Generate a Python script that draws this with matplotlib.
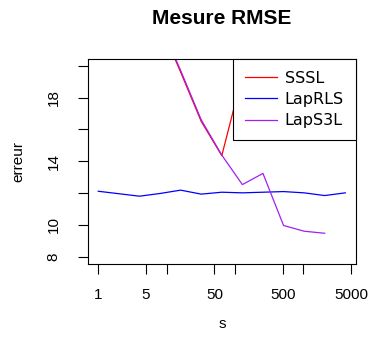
import matplotlib
matplotlib.use("Agg")
import matplotlib.pyplot as plt

# values
s = [1, 4, 8, 16, 32, 64, 128, 256, 512, 1024, 2048, 4096]
sssl = [38.0, 29.0, 22.6, 19.6, 16.5, 14.35, 19.4, 22.0, 24.0, 25.0, 26.0]
laprls = [12.11, 11.80, 11.97, 12.18, 11.93, 12.05, 12.01, 12.05, 12.09, 12.01, 11.84, 12.01]
laps3l = [38.0, 29.0, 22.7, 19.7, 16.6, 14.38, 12.53, 13.23, 9.96, 9.60, 9.47]

xticks = [1, 5, 10, 50, 100, 500, 1000, 5000]
xlabels = ["1", "5", "", "50", "", "500", "", "5000"]
yticks = [8, 10, 12, 14, 16, 18, 20]
ylabels = ["8", "10", "", "14", "", "18", ""]

plt.rcParams['font.family'] = ['Liberation Sans', 'DejaVu Sans']

fig = plt.figure(figsize=(3.7, 3.45), dpi=100)
ax = fig.add_axes([0.2386, 0.2348, 0.962 - 0.2386, 0.829 - 0.2348])

lw = 0.9
ax.plot(s[:len(sssl)], sssl, color='#FF0000', lw=lw, label='SSSL')
ax.plot(s, laprls, color='#0000FF', lw=lw, label='LapRLS')
ax.plot(s[:len(laps3l)], laps3l, color='#A020F0', lw=lw, label='LapS3L')

ax.set_xscale('log')
ax.set_xlim(0.714, 5861)
ax.set_ylim(7.54, 20.42)
ax.minorticks_off()
ax.set_xticks(xticks)
ax.set_xticklabels(xlabels)
ax.set_yticks(yticks)
ax.set_yticklabels(ylabels)

ax.tick_params(axis='both', length=7, width=0.8, labelsize=11)
ax.tick_params(axis='x', pad=10)
ax.tick_params(axis='y', pad=13, labelrotation=90)
for t in ax.get_yticklabels():
    t.set_va('center')
for sp in ax.spines.values():
    sp.set_linewidth(0.8)

ax.set_title('Mesure RMSE', fontsize=15, fontweight='bold', pad=25)
ax.set_xlabel('s', fontsize=11, labelpad=11)
ax.set_ylabel('erreur', fontsize=11, labelpad=15)

leg = ax.legend(loc='upper right', borderaxespad=0, fancybox=False,
                edgecolor='black', framealpha=1, prop={'family': 'DejaVu Sans', 'size': 11.5},
                handlelength=2.0, labelspacing=0.38, borderpad=0.75, handletextpad=0.5)
leg.get_frame().set_linewidth(0.8)

fig.savefig('out.png', dpi=100)
